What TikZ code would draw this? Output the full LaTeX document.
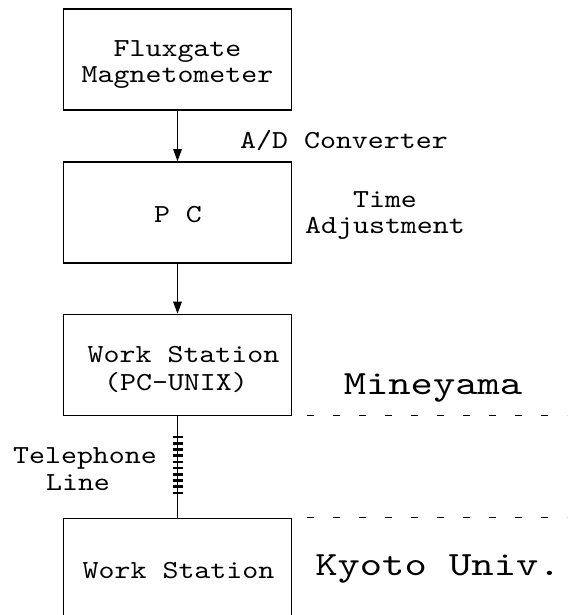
\documentclass[tikz,border=0pt]{standalone}
\usepackage{fontspec}
\newfontfamily\courf[FakeStretch=1.17]{lmmono10-regular.otf}
\newfontfamily\courbig[FakeStretch=1.25]{lmmono10-regular.otf}
\usetikzlibrary{arrows.meta}
\begin{document}
\begin{tikzpicture}[x=1pt,y=-1pt,
 box/.style={draw,line width=1.6pt,minimum width=228pt,minimum height=101pt,inner sep=0pt},
 txt/.style={inner sep=0pt,anchor=base,font=\courf\fontsize{26}{27}\selectfont},
 big/.style={inner sep=0pt,anchor=base,font=\courbig\fontsize{34}{40}\selectfont},
 arr/.style={line width=1.4pt,-{Triangle[length=12pt,width=8.5pt]}},
 wire/.style={line width=1.4pt},
 coil/.style={line width=2.6pt},
 sep/.style={line width=1.3pt,dash pattern=on 7pt off 19pt}]
\useasboundingbox (0,0) rectangle (567,615);
\clip (0,0) rectangle (567,615);
\node[box] (fm) at (177.5,59.5) {};
\node[txt] (fm1) at (177.5,57) {Fluxgate};
\node[txt] (fm2) at (177.5,83) {Magnetometer};
\node[box] (pc) at (177.5,212.5) {};
\node[txt] (pct) at (178,222) {P C};
\node[box] (ws1) at (177.5,365) {};
\node[txt] (ws11) at (183.5,362) {Work Station};
\node[txt] (ws12) at (176,390) {(PC-UNIX)};
\node[box] (ws2) at (177.5,569) {};
\node[txt] (ws2t) at (178.5,578) {Work Station};
\draw[arr] (fm) -- (pc);
\draw[arr] (pc) -- (ws1);
\draw[wire] (ws1) -- (ws2);
\foreach \k in {0,...,9}
  \draw[coil] (172.5,437+6.2*\k) -- (182.5,437+6.2*\k);
\node[txt] (ad) at (344,148) {A/D Converter};
\node[txt] (ta1) at (385,207) {Time};
\node[txt] (ta2) at (385,233) {Adjustment};
\node[txt] (tl1) at (85,463) {Telephone};
\node[txt] (tl2) at (78,490) {Line};
\node[big] (mi) at (433,394) {Mineyama};
\node[big] (ky) at (438,575) {Kyoto Univ.};
\draw[sep] (306.7,415.5) -- (567,415.5);
\draw[sep] (306.7,517.5) -- (567,517.5);
\end{tikzpicture}
\end{document}
